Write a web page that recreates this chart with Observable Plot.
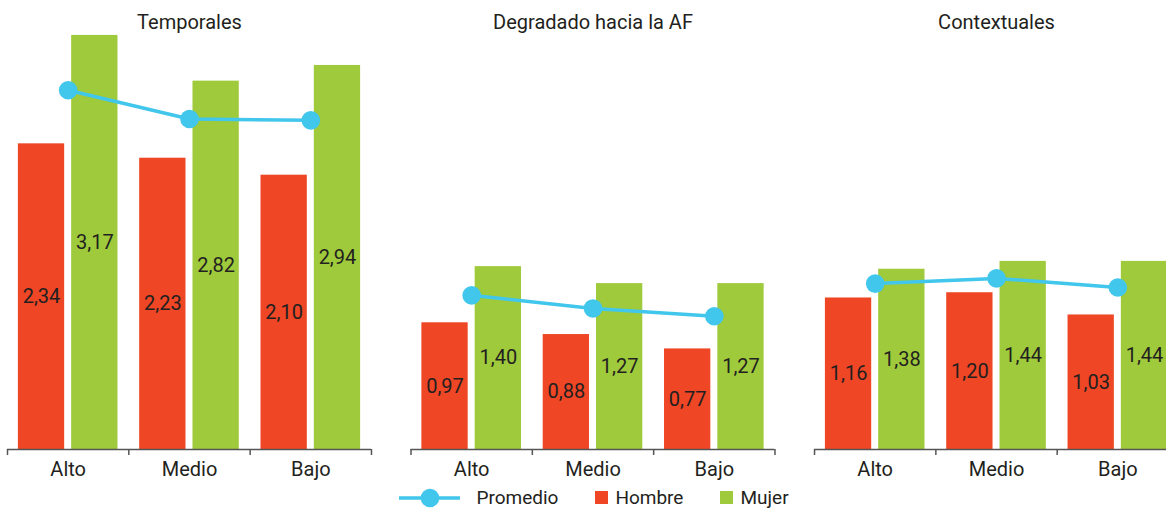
<!DOCTYPE html>
<html><head><meta charset="utf-8">
<script src="https://cdn.jsdelivr.net/npm/d3@7"></script>
<script src="https://cdn.jsdelivr.net/npm/@observablehq/plot@0.6"></script>
<style>
html,body{margin:0;padding:0;background:#fff;overflow:hidden;}
body{font-family:Roboto, "Noto Sans", sans-serif;color:#231f20;width:1166px;}
#legend{display:flex;justify-content:center;align-items:center;height:31px;font-size:19px;padding-left:22px;}
#legend .item{display:flex;align-items:center;}
#legend .sw{width:13px;height:13px;margin-right:7px;}
</style></head><body>
<div id="chart"></div>
<div id="legend"></div>
<script>
const facets = ["Temporales", "Degradado hacia la AF", "Contextuales"];
const groups = ["Alto", "Medio", "Bajo"];
const hombre = [[2.34, 2.23, 2.10], [0.97, 0.88, 0.77], [1.16, 1.20, 1.03]];
const mujer = [[3.17, 2.82, 2.94], [1.40, 1.27, 1.27], [1.38, 1.44, 1.44]];
const promedio = [[2.75, 2.53, 2.52], [1.18, 1.08, 1.02], [1.27, 1.31, 1.24]];
const seriesNames = ["Promedio", "Hombre", "Mujer"];

const RED = "#ef4625", GREEN = "#9fca3b", BLUE = "#41c6ec", AXIS = "#555", TEXT = "#231f20";

const rows = [];
facets.forEach((f, i) => groups.forEach((g, j) => rows.push({
  facet: f, group: g, hombre: hombre[i][j], mujer: mujer[i][j], promedio: promedio[i][j]
})));
const fmt = v => v.toFixed(2).replace(".", ",");

function build(bw, upp) {
  const barW = 46.3, gap = 7;
  const side = Math.max(0, (bw - 2 * barW - gap) / 2);
  const off = (barW + gap) / 2;
  const lastRows = rows.filter(d => d.group === groups[groups.length - 1]);
  return Plot.plot({
    width: 1166, height: 482,
    marginLeft: 7, marginRight: -12, marginTop: 31, marginBottom: 33,
    style: {fontFamily: "Roboto, 'Noto Sans', sans-serif", fontSize: "20px", color: TEXT, background: "white", overflow: "hidden"},
    fx: {domain: facets, paddingInner: 0.098, paddingOuter: 0, round: false, axis: null, label: null},
    x: {domain: groups, padding: 0, round: false, label: null, tickSize: 0, tickPadding: 12},
    y: {domain: [0, 3.2], axis: null},
    marks: [
      Plot.barY(rows, {fx: "facet", x: "group", y: "hombre", fill: RED, insetLeft: side, insetRight: side + barW + gap}),
      Plot.barY(rows, {fx: "facet", x: "group", y: "mujer", fill: GREEN, insetLeft: side + barW + gap, insetRight: side}),
      Plot.text(rows, {fx: "facet", x: "group", y: d => d.hombre / 2, text: d => fmt(d.hombre), dx: -off, fill: TEXT}),
      Plot.text(rows, {fx: "facet", x: "group", y: d => d.mujer / 2, text: d => fmt(d.mujer), dx: off, fill: TEXT}),
      Plot.ruleY([0], {stroke: AXIS, strokeWidth: 1.5}),
      Plot.ruleX(rows, {fx: "facet", x: "group", y1: 0, y2: -6 * upp, dx: -bw / 2, stroke: AXIS, strokeWidth: 1.5}),
      Plot.ruleX(lastRows, {fx: "facet", x: "group", y1: 0, y2: -6 * upp, dx: bw / 2, stroke: AXIS, strokeWidth: 1.5}),
      Plot.lineY(rows, {fx: "facet", x: "group", y: "promedio", stroke: BLUE, strokeWidth: 3.5}),
      Plot.dot(rows, {fx: "facet", x: "group", y: "promedio", r: 9.3, fill: BLUE}),
      Plot.text(facets, {fx: d => d, text: d => d, frameAnchor: "top", dy: -9, lineAnchor: "middle", fill: TEXT})
    ]
  });
}

let probe = build(121, 0.0077);
const xs = probe.scale("x"), ys = probe.scale("y");
const bw = xs.bandwidth;
const upp = (ys.domain[1] - ys.domain[0]) / Math.abs(ys.range[0] - ys.range[1]);
document.getElementById("chart").append(build(bw, upp));

// legend
const lg = document.getElementById("legend");
const colors = [BLUE, RED, GREEN];
seriesNames.forEach((name, i) => {
  const it = document.createElement("div");
  it.className = "item";
  if (i === 0) {
    it.innerHTML = `<svg width="61" height="20" style="margin-right:16px"><line x1="0" x2="61" y1="10" y2="10" stroke="${BLUE}" stroke-width="3.5"/><circle cx="31" cy="10" r="9.3" fill="${BLUE}"/></svg>`;
  } else {
    it.innerHTML = `<div class="sw" style="background:${colors[i]}"></div>`;
  }
  const t = document.createElement("span");
  t.textContent = name;
  it.append(t);
  it.style.marginRight = i < seriesNames.length - 1 ? "37px" : "0";
  lg.append(it);
});
</script>
</body></html>
